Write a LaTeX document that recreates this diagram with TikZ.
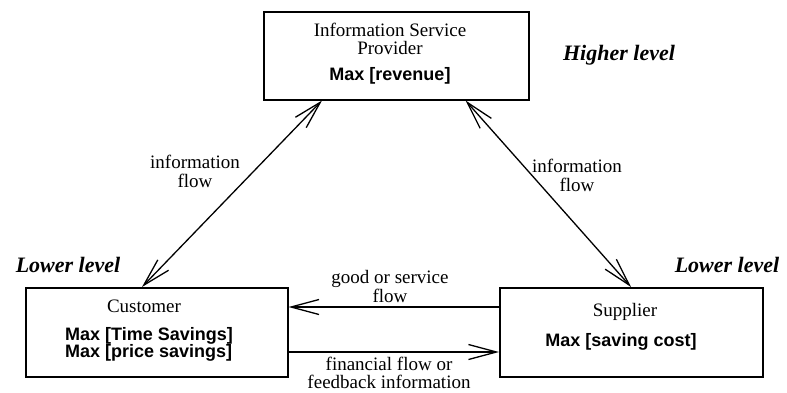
\documentclass[tikz,border=0pt]{standalone}
\usepackage{fontspec}
\setmainfont{Liberation Serif}
\newfontfamily\sansb{Liberation Sans}[UprightFont=* Bold]
\newfontfamily\serifbi{Liberation Serif}[UprightFont=* Bold Italic]
\usetikzlibrary{arrows.meta}
\tikzset{
  box/.style={draw, line width=1.5pt, anchor=north west, inner sep=0pt},
  serif/.style={anchor=base, inner sep=0pt, font=\fontsize{19}{19}\selectfont},
  boldtxt/.style={anchor=base, inner sep=0pt, font=\sansb\fontsize{18}{18}\selectfont},
  lvl/.style={anchor=base, inner sep=0pt, font=\serifbi\fontsize{22}{22}\selectfont},
  flowlbl/.style={anchor=base, inner sep=0pt, align=center, font=\fontsize{19}{19}\selectfont},
  link/.style={line width=1.3pt, -{Straight Barb[length=28pt,width=15pt,line width=1.3pt]}},
  dlink/.style={line width=1.3pt, {Straight Barb[length=28pt,width=15pt,line width=1.3pt]}-{Straight Barb[length=28pt,width=15pt,line width=1.3pt]}}
}
\begin{document}
\begin{tikzpicture}[x=1pt,y=-1pt]
\useasboundingbox (0,0) rectangle (787,392);
% boxes
\node[box, minimum width=265pt, minimum height=88pt] (isp) at (263,11) {};
\node[box, minimum width=262pt, minimum height=89pt] (cust) at (25,287) {};
\node[box, minimum width=263pt, minimum height=89pt] (sup) at (499,287) {};
% box texts
\node[serif] (t1) at (390,36) {Information Service};
\node[serif] (t2) at (390,54) {Provider};
\node[boldtxt] (t3) at (390,80) {Max [revenue]};
\node[serif] (c1) at (144,312) {Customer};
\node[boldtxt, anchor=base west] (c2) at (65,340) {Max [Time Savings]};
\node[boldtxt, anchor=base west] (c3) at (65,357) {Max [price savings]};
\node[serif] (s1) at (625,316) {Supplier};
\node[boldtxt] (s2) at (621,346) {Max [saving cost]};
% level labels
\node[lvl] (hl) at (619,60) {Higher level};
\node[lvl] (ll1) at (68,272) {Lower level};
\node[lvl] (ll2) at (727,272) {Lower level};
% flow labels
\node[flowlbl] (f1) at (195,168) {information};
\node[flowlbl] (f1b) at (195,187) {flow};
\node[flowlbl] (f2) at (577,172) {information};
\node[flowlbl] (f2b) at (577,191) {flow};
\node[flowlbl] (f3) at (390,283) {good or service};
\node[flowlbl] (f3b) at (390,302) {flow};
\node[flowlbl] (f4) at (389,370) {financial flow or};
\node[flowlbl] (f4b) at (389,388) {feedback information};
% connectors
\draw[dlink] ([xshift=117pt]cust.north west) -- ([xshift=59pt]isp.south west);
\draw[dlink] ([xshift=-64pt]isp.south east) -- ([xshift=132pt]sup.north west);
\draw[link] ([yshift=-20pt]sup.north west) -- ([yshift=-20pt]cust.north east);
\draw[link] ([yshift=-65pt]cust.north east) -- ([yshift=-65pt]sup.north west);
\end{tikzpicture}
\end{document}
